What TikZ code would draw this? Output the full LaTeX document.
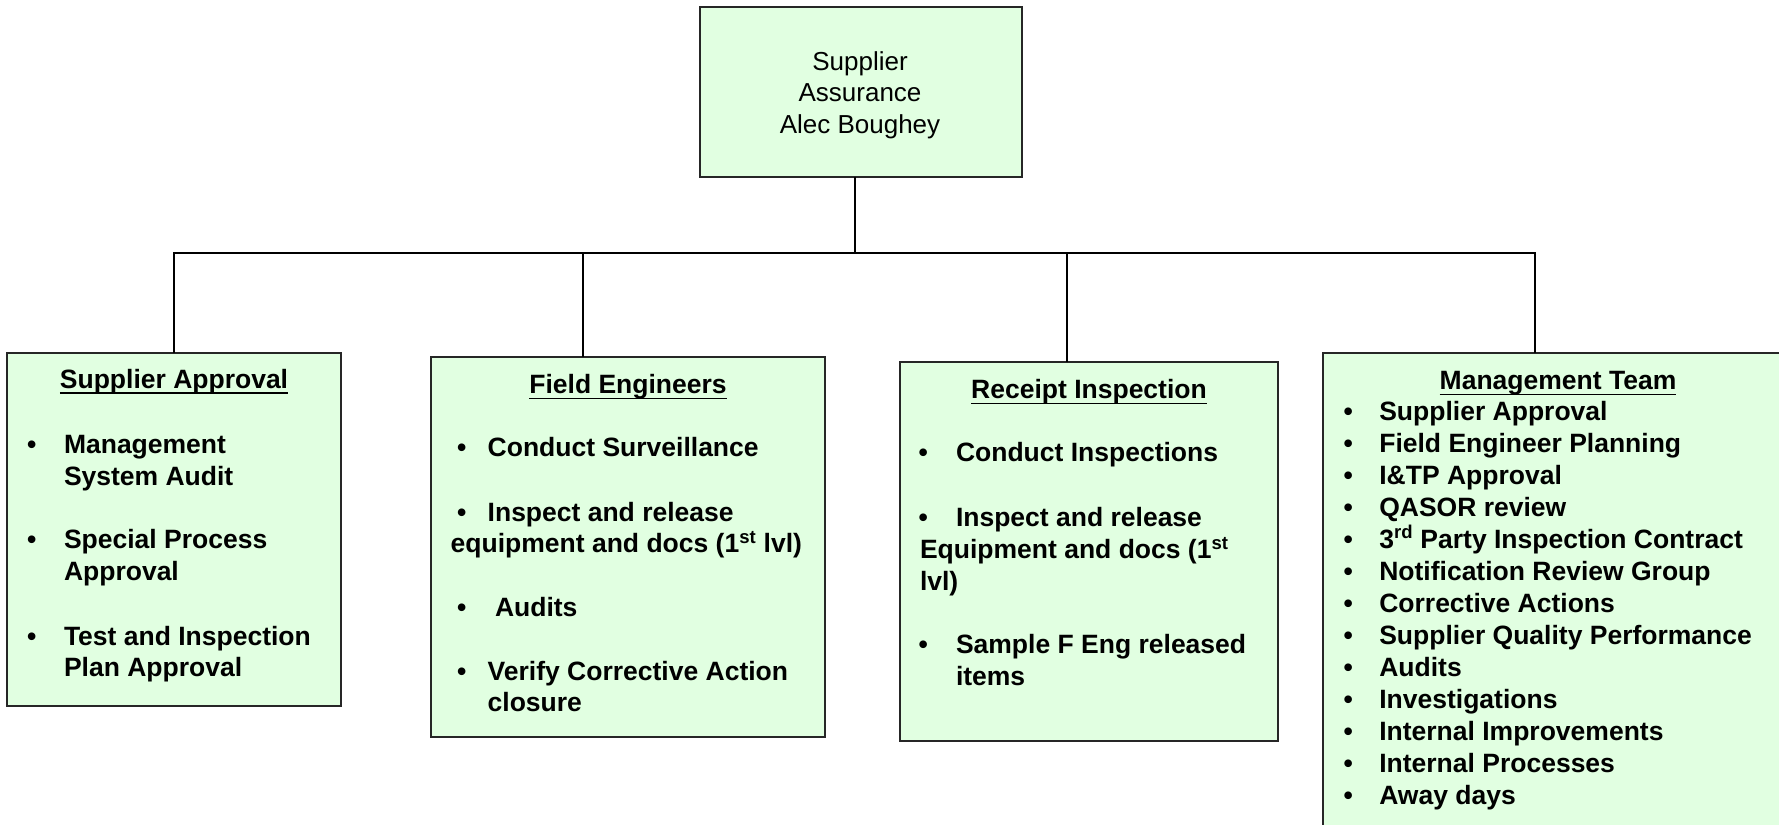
\documentclass[tikz,border=0pt]{standalone}
\usepackage{fontspec}
\setmainfont{Liberation Sans}
\definecolor{boxgreen}{RGB}{225,255,225}
\newcommand{\myul}[1]{\setbox0\hbox{#1}\rlap{\rule[-0.23em]{\wd0}{0.07em}}\box0}
\newcommand{\ml}[1]{\begin{tabular}[t]{@{}l@{}}#1\end{tabular}}
\begin{document}
\begin{tikzpicture}[x=1pt,y=-1pt,
  box/.style={draw=black!85, line width=1.6pt, fill=boxgreen, outer sep=0pt, inner sep=0pt},
  wire/.style={line width=1.8pt, black},
  bt/.style={anchor=base west, inner sep=0pt, outer sep=0pt, font=\bfseries\fontsize{26.5}{31.8}\selectfont},
  bul/.style={anchor=base, inner sep=0pt, outer sep=0pt, font=\bfseries\fontsize{26.5}{31.8}\selectfont},
  ttl/.style={anchor=base, inner sep=0pt, outer sep=0pt, font=\bfseries\fontsize{26.5}{31.8}\selectfont},
  toptxt/.style={anchor=base, inner sep=0pt, outer sep=0pt, font=\fontsize{26}{31.3}\selectfont}
]
\useasboundingbox (0,0) rectangle (1779,824);
\fill[white] (0,0) rectangle (1779,824);
\clip (0,0) rectangle (1779,824);

% boxes
\node[box, minimum width=322pt, minimum height=170pt] (top) at (861,92) {};
\node[box, minimum width=334pt, minimum height=353pt] (sa) at (174,529.5) {};
\node[box, minimum width=394pt, minimum height=380pt] (fe) at (628,547) {};
\node[box, minimum width=378pt, minimum height=379pt] (ri) at (1089,551.5) {};
\node[box, minimum width=472pt, minimum height=497pt] (mt) at (1559,601.5) {};

% connectors
\coordinate (jc) at (855,253);
\coordinate (j1) at (174,253);
\coordinate (j2) at (583,253);
\coordinate (j3) at (1067,253);
\coordinate (j4) at (1535,253);
\draw[wire] (top.south -| jc) -- (jc);
\draw[wire] (sa.north -| j1) -- (j1) -- (j4) -- (mt.north -| j4);
\draw[wire] (j2) -- (fe.north -| j2);
\draw[wire] (j3) -- (ri.north -| j3);

% top box text
\node[toptxt] (topT) at (860,70.7) {\begin{tabular}[t]{@{}c@{}}Supplier\\Assurance\\Alec Boughey\end{tabular}};

% Supplier Approval
\node[ttl] (saT) at (174,388) {\myul{Supplier Approval}};
\node[bul] (sab1) at (31.7,453.3) {•};
\node[bt] (sai1) at (64,453.3) {\ml{Management\\System Audit}};
\node[bul] (sab2) at (31.7,548.3) {•};
\node[bt] (sai2) at (64,548.3) {\ml{Special Process\\Approval}};
\node[bul] (sab3) at (31.7,645) {•};
\node[bt] (sai3) at (64,645) {\ml{Test and Inspection\\Plan Approval}};

% Field Engineers
\node[ttl] (feT) at (628,393.3) {\myul{Field Engineers}};
\node[bul] (feb1) at (461.7,456.7) {•};
\node[bt] (fei1) at (487.7,456.7) {Conduct Surveillance};
\node[bul] (feb2) at (461.7,521) {•};
\node[bt] (fei2) at (450.7,521) {\ml{\hspace*{37pt}Inspect and release\\equipment and docs (1\textsuperscript{st} lvl)}};
\node[bul] (feb3) at (461.7,616) {•};
\node[bt] (fei3) at (495,616) {Audits};
\node[bul] (feb4) at (461.7,680) {•};
\node[bt] (fei4) at (487.7,680) {\ml{Verify Corrective Action\\closure}};

% Receipt Inspection
\node[ttl] (riT) at (1089,398.3) {\myul{Receipt Inspection}};
\node[bul] (rib1) at (923.3,461.7) {•};
\node[bt] (rii1) at (956,461.7) {Conduct Inspections};
\node[bul] (rib2) at (923.3,526.7) {•};
\node[bt] (rii2) at (920,526.7) {\ml{\hspace*{36pt}Inspect and release\\Equipment and docs (1\textsuperscript{st}\\lvl)}};
\node[bul] (rib3) at (923.3,653.3) {•};
\node[bt] (rii3) at (956,653.3) {\ml{Sample F Eng released\\items}};

% Management Team
\node[ttl] (mtT) at (1558,389.3) {\myul{Management Team}};
\foreach \t [count=\i] in {{Supplier Approval},{Field Engineer Planning},{I\&TP Approval},{QASOR review},{3\textsuperscript{rd} Party Inspection Contract},{Notification Review Group},{Corrective Actions},{Supplier Quality Performance},{Audits},{Investigations},{Internal Improvements},{Internal Processes},{Away days}}{
  \node[bul] (mtb\i) at (1348.3,{420+32*(\i-1)}) {•};
  \node[bt] (mti\i) at (1379.3,{420+32*(\i-1)}) {\t};
}
\end{tikzpicture}
\end{document}
